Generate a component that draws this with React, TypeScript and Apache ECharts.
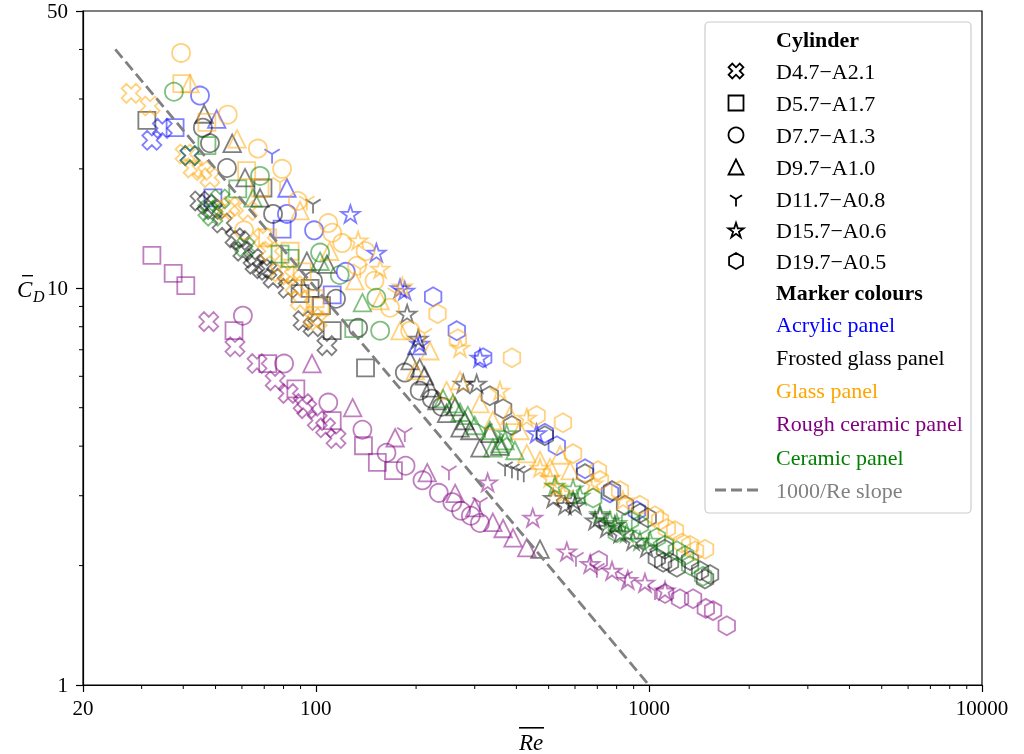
import React, { useEffect, useRef } from "react";
import * as echarts from "echarts";

// ---- Data: [Re, C_D] ----
const acrylicCross = [[32.2, 23.6], [34.6, 25.3], [41.9, 21.6]];
const acrylicSquare = [[37.8, 25.4], [49.1, 16.9], [79.2, 14.1], [112, 9.63]];
const acrylicCircle = [[44.9, 30.6], [81.9, 15.4], [98.8, 14.0], [123, 11.0]];
const acrylicTriangle = [[50.4, 26.7], [81.9, 17.9], [201, 7.17]];
const acrylicTri = [[73.9, 21.8]];
const acrylicStar = [[127, 15.4], [152, 12.3], [179, 10.0], [185, 9.86], [205, 7.25], [311, 6.68], [460, 4.31]];
const acrylicHexagon = [[225, 9.52], [265, 7.82], [318, 6.68], [487, 4.31], [529, 4.01], [643, 3.51], [764, 3.05], [920, 2.75]];

const frostedCross = [[47.1, 16.3], [49.1, 15.8], [52.3, 14.6], [57.2, 13.4], [60.4, 12.4], [65.7, 11.5], [71.3, 11.1], [74.4, 10.6], [82.6, 10.0], [91.6, 8.29], [98.1, 8.0], [108, 7.17], [44.9, 16.6], [64.8, 11.9], [59.2, 13.2], [69.0, 11.2]];
const frostedSquare = [[31.1, 26.5], [69.4, 17.9], [89.7, 9.69], [96.1, 10.0], [104, 9.04], [112, 7.82], [141, 6.3]];
const frostedCircle = [[45.8, 25.4], [48.1, 23.2], [54.1, 20.1], [74.4, 15.4], [98.1, 10.45], [115, 9.41], [134, 7.95], [185, 6.13], [205, 5.52], [223, 5.27], [239, 5.03]];
const frostedTriangle = [[46.2, 27.5], [56.1, 23.2], [61.3, 19.0], [68.0, 16.9], [94.0, 11.7], [108, 11.5], [192, 6.57], [205, 6.3], [212, 6.02], [220, 5.61], [231, 5.21], [247, 4.84], [262, 5.03], [271, 4.45], [280, 4.64], [290, 4.38], [311, 3.96], [333, 4.31], [357, 4.0], [471, 2.2]];
const frostedTri = [[98.1, 16.3], [370, 3.55], [388, 3.51], [404, 3.47], [421, 3.43]];
const frostedStar = [[188, 8.63], [203, 7.46], [277, 5.75], [304, 5.75], [516, 2.96], [560, 2.84], [592, 2.92], [600, 2.84], [689, 2.6], [713, 2.67], [747, 2.49], [790, 2.53], [819, 2.41], [896, 2.31], [985, 2.22]];
const frostedHexagon = [[333, 5.36], [365, 4.97], [388, 4.51], [487, 4.25], [643, 3.41], [775, 3.09], [848, 2.84], [940, 2.71], [992, 2.64], [1056, 2.09], [1103, 2.04], [1117, 2.2], [1157, 2.04], [1213, 1.98], [1329, 2.06], [1424, 1.94], [1474, 1.85], [1526, 1.9]];

const glassCross = [[27.9, 31.0], [31.8, 28.8], [40.5, 21.8], [42.8, 20.1], [45.5, 19.8], [48.1, 19.0], [53.4, 15.7], [55.3, 16.1], [62.5, 15.7], [69.4, 13.4], [72.9, 12.4], [78.1, 11.0], [82.6, 10.8], [86.7, 10.15], [89.7, 9.31], [98.1, 8.42], [101, 8.29]];
const glassSquare = [[39.6, 32.8], [47.1, 26.2], [62.0, 19.8], [68.0, 17.9], [71.7, 13.4], [83.7, 12.4], [91.0, 11.0], [99.5, 9.41], [103, 8.98]];
const glassCircle = [[39.4, 39.2], [54.4, 27.4], [67.0, 22.5], [79.2, 20.0], [88.3, 16.6], [109, 14.6], [112, 13.8], [120, 13.0], [133, 11.4], [141, 12.4], [150, 10.45], [167, 8.93], [192, 7.82], [60.9, 14.0]];
const glassTriangle = [[41.9, 32.8], [58.0, 23.8], [89.7, 15.7], [110, 12.4], [131, 10.45], [156, 9.31], [179, 7.82], [199, 6.2], [220, 6.96], [247, 5.52], [271, 5.85], [311, 5.12], [340, 4.64], [383, 4.78], [410, 4.38], [430, 3.83], [471, 3.68], [505, 3.53], [541, 3.8], [580, 3.47]];
const glassTri = [[78.1, 18.5], [94.0, 16.6], [136, 11.2], [173, 9.74], [212, 7.7]];
const glassStar = [[134, 13.2], [156, 11.2], [182, 10.1], [271, 7.08], [357, 5.52], [430, 4.72], [471, 3.53], [505, 3.33], [529, 3.15], [552, 3.04], [680, 3.22], [836, 2.92]];
const glassHexagon = [[232, 8.63], [267, 7.46], [388, 6.68], [460, 4.78], [552, 4.58], [592, 3.83], [703, 3.47], [713, 3.28], [819, 3.09], [940, 2.84], [1043, 2.67], [1080, 2.6], [1132, 2.48], [1198, 2.45], [1257, 2.28], [1329, 2.25], [1376, 2.18], [1474, 2.2]];

const roughCross = [[47.7, 8.24], [57.2, 7.12], [66.6, 6.46], [75.5, 5.85], [82.6, 5.43], [91.6, 5.12], [94.0, 4.97], [101, 4.64], [107, 4.45], [115, 4.18]];
const roughSquare = [[32.2, 12.1], [37.3, 10.9], [40.7, 10.15], [56.8, 7.82], [71.7, 6.46], [87.1, 5.58], [112, 4.64], [139, 4.01], [153, 3.64], [171, 3.47]];
const roughCircle = [[60.4, 8.53], [80.3, 6.46], [109, 5.15], [138, 4.4], [163, 3.85], [186, 3.57], [209, 3.28], [234, 3.05], [257, 2.89], [273, 2.75], [292, 2.67], [311, 2.56]];
const roughTriangle = [[97.4, 6.46], [129, 5.0], [173, 4.2], [216, 3.43], [262, 3.04], [300, 2.8], [340, 2.57], [365, 2.48], [391, 2.35], [430, 2.22]];
const roughTri = [[185, 4.33], [251, 3.47], [311, 2.89], [604, 2.1], [698, 1.97], [848, 1.88], [1043, 1.73]];
const roughStar = [[328, 3.24], [448, 2.64], [567, 2.17], [666, 2.02], [775, 1.94], [864, 1.84], [973, 1.81], [1118, 1.73]];
const roughHexagon = [[707, 2.06], [1118, 1.7], [1240, 1.65], [1357, 1.65], [1482, 1.56], [1558, 1.54], [1713, 1.41]];

const ceramicCross = [[41.9, 21.6], [47.4, 15.7], [49.1, 15.2], [61.3, 12.7], [51.6, 16.8]];
const ceramicSquare = [[47.1, 22.9], [58.3, 17.8], [78.1, 12.2], [83.7, 11.9], [130, 7.91]];
const ceramicCircle = [[37.5, 31.3], [68.0, 19.2], [103, 12.3], [118, 10.8], [152, 9.46], [156, 7.82]];
const ceramicTriangle = [[64.8, 16.9], [103, 11.7], [138, 9.2], [241, 5.27], [258, 5.12], [271, 4.87], [286, 4.78], [300, 4.51], [333, 4.38], [340, 3.96], [357, 4.06], [370, 4.13], [396, 3.9]];
const ceramicTri = [[322, 4.43]];
const ceramicStar = [[374, 4.31], [522, 3.18], [592, 3.13], [621, 3.0], [713, 2.7], [764, 2.6], [801, 2.56], [858, 2.42], [940, 2.31], [1008, 2.31]];
const ceramicHexagon = [[680, 2.96], [801, 2.42], [878, 2.6], [940, 2.53], [1056, 2.35], [1117, 2.25], [1213, 2.18], [1284, 2.12], [1329, 2.0], [1454, 1.88]];

const slopeLine = [[25, 40], [1000, 1]];

const cylinderNames = ["D4.7\u2212A2.1", "D5.7\u2212A1.7", "D7.7\u2212A1.3", "D9.7\u2212A1.0", "D11.7\u2212A0.8", "D15.7\u2212A0.6", "D19.7\u2212A0.5"];
const panelNames = ["Acrylic panel", "Frosted glass panel", "Glass panel", "Rough ceramic panel", "Ceramic panel"];
const panelColors = ["#0000ff", "#000000", "#ffa500", "#800080", "#008000"];
const xMinor = [30, 40, 50, 60, 70, 80, 90, 200, 300, 400, 500, 600, 700, 800, 900, 2000, 3000, 4000, 5000, 6000, 7000, 8000, 9000];
const yMinor = [2, 3, 4, 5, 6, 7, 8, 9, 20, 30, 40];

const panelSets = [
  [acrylicCross, acrylicSquare, acrylicCircle, acrylicTriangle, acrylicTri, acrylicStar, acrylicHexagon],
  [frostedCross, frostedSquare, frostedCircle, frostedTriangle, frostedTri, frostedStar, frostedHexagon],
  [glassCross, glassSquare, glassCircle, glassTriangle, glassTri, glassStar, glassHexagon],
  [roughCross, roughSquare, roughCircle, roughTriangle, roughTri, roughStar, roughHexagon],
  [ceramicCross, ceramicSquare, ceramicCircle, ceramicTriangle, ceramicTri, ceramicStar, ceramicHexagon],
];

const X_PATH = "path://M2,-4L0,-2L-2,-4L-4,-2L-2,0L-4,2L-2,4L0,2L2,4L4,2L2,0L4,-2Z";
const TRI_PATH = "path://M0,-100M0,0L0,100M0,0L-80,-50M0,0L80,-50";
const STAR_PATH = "path://M0,-100L22.45,-30.9L95.11,-30.9L36.33,11.8L58.78,80.9L0,38.2L-58.78,80.9L-36.33,11.8L-95.11,-30.9L-22.45,-30.9Z";
const HEX_PATH = "path://M0,-100L86.6,-50L86.6,50L0,100L-86.6,50L-86.6,-50Z";
const shapeDefs = [
  { symbol: X_PATH, size: 19 },
  { symbol: "rect", size: 17 },
  { symbol: "circle", size: 18 },
  { symbol: "triangle", size: 17.5 },
  { symbol: TRI_PATH, size: 19 },
  { symbol: STAR_PATH, size: 18.5 },
  { symbol: HEX_PATH, size: 19 },
];

const FONT = "'Liberation Serif', 'Times New Roman', serif";

export default function App() {
  const ref = useRef<HTMLDivElement>(null);
  useEffect(() => {
    if (!ref.current) return;
    const chart = echarts.init(ref.current, null, { renderer: "svg" });
    const series: any[] = [];
    panelSets.forEach((sets, pi) => {
      sets.forEach((data, si) => {
        series.push({
          type: "scatter",
          data,
          symbol: shapeDefs[si].symbol,
          symbolSize: shapeDefs[si].size,
          symbolKeepAspect: true,
          silent: true,
          itemStyle: { color: "none", borderColor: panelColors[pi], borderWidth: 1.8, opacity: 0.5 },
          z: 2,
        });
      });
    });
    series.push({
      type: "line",
      data: slopeLine,
      showSymbol: false,
      silent: true,
      lineStyle: { color: "#808080", width: 2.8, type: [11, 5] },
      z: 3,
    });
    const fmt = (v: number) => String(Math.round(v));
    chart.setOption({
      animation: false,
      grid: { left: 83, top: 11, width: 899, height: 674, show: true, borderColor: "#000", borderWidth: 1.2, backgroundColor: "transparent" },
      xAxis: {
        type: "log", logBase: 10, min: 20, max: 10000,
        axisLine: { show: true, lineStyle: { color: "#000", width: 1.2 } },
        axisTick: { show: true, length: 7, lineStyle: { color: "#000", width: 1.2 } },
        axisLabel: { formatter: fmt, fontFamily: FONT, fontSize: 21, color: "#000", margin: 12, showMinLabel: true, showMaxLabel: true },
        splitLine: { show: false },
      },
      yAxis: {
        type: "log", logBase: 10, min: 1, max: 50,
        axisLine: { show: true, lineStyle: { color: "#000", width: 1.2 } },
        axisTick: { show: true, length: 7, lineStyle: { color: "#000", width: 1.2 } },
        axisLabel: { formatter: fmt, fontFamily: FONT, fontSize: 21, color: "#000", margin: 15, showMinLabel: true, showMaxLabel: true },
        splitLine: { show: false },
      },
      series,
    });

    const px = (v: number) => chart.convertToPixel({ xAxisIndex: 0 }, v) as number;
    const py = (v: number) => chart.convertToPixel({ yAxisIndex: 0 }, v) as number;
    const bottom = py(1);
    const left = px(20);
    const g: any[] = [];
    xMinor.forEach((v) => {
      const x = px(v);
      g.push({ type: "line", shape: { x1: x, y1: bottom, x2: x, y2: bottom + 4 }, style: { stroke: "#000", lineWidth: 1 }, silent: true });
    });
    yMinor.forEach((v) => {
      const y = py(v);
      g.push({ type: "line", shape: { x1: left - 4, y1: y, x2: left, y2: y }, style: { stroke: "#000", lineWidth: 1 }, silent: true });
    });

    // axis titles
    g.push({ type: "text", x: 531, y: 742, style: { text: "Re", fontFamily: FONT, fontStyle: "italic", fontSize: 23, fill: "#000", align: "center", verticalAlign: "middle" } });
    g.push({ type: "rect", shape: { x: 519, y: 727, width: 25, height: 1.6 }, style: { fill: "#000" } });
    g.push({ type: "text", x: 17, y: 289, style: { text: "C", fontFamily: FONT, fontStyle: "italic", fontSize: 23, fill: "#000", align: "left", verticalAlign: "middle" } });
    g.push({ type: "rect", shape: { x: 22, y: 275, width: 11, height: 1.4 }, style: { fill: "#000" } });
    g.push({ type: "text", x: 33, y: 296, style: { text: "D", fontFamily: FONT, fontStyle: "italic", fontSize: 16, fill: "#000", align: "left", verticalAlign: "middle" } });

    // legend
    const rowY = [39, 71, 103, 135, 167, 199, 230, 261, 292, 324, 357, 390, 423, 457, 490];
    const MX = 736;
    const TX = 776;
    const leg: any[] = [];
    leg.push({ type: "rect", shape: { x: 705, y: 22, width: 266, height: 491, r: 4 }, style: { fill: "rgba(255,255,255,0.8)", stroke: "#cccccc", lineWidth: 1.2 } });
    const txt = (text: string, y: number, fill: string, bold = false) => ({
      type: "text", x: TX, y,
      style: { text, fontFamily: FONT, fontSize: 22, fontWeight: bold ? "bold" : "normal", fill, align: "left", verticalAlign: "middle" },
    });
    leg.push(txt("Cylinder", rowY[0], "#000", true));
    cylinderNames.forEach((n, i) => leg.push(txt(n, rowY[i + 1], "#000")));
    leg.push(txt("Marker colours", rowY[8], "#000", true));
    panelNames.forEach((n, i) => leg.push(txt(n, rowY[9 + i], panelColors[i])));
    leg.push(txt("1000/Re slope", rowY[14], "#808080"));
    leg.push({ type: "line", shape: { x1: 715, y1: rowY[14], x2: 758, y2: rowY[14] }, style: { stroke: "#808080", lineWidth: 2.8, lineDash: [11, 5] } });

    const ms = { fill: "none", stroke: "#000", lineWidth: 1.8 };
    const poly = (pts: number[][], s: number, cy: number) => ({
      type: "polygon", shape: { points: pts.map(([a, b]) => [MX + a * s, cy + b * s]) }, style: ms,
    });
    const xPts = [[2, -4], [0, -2], [-2, -4], [-4, -2], [-2, 0], [-4, 2], [-2, 4], [0, 2], [2, 4], [4, 2], [2, 0], [4, -2]];
    leg.push(poly(xPts, 1.85, rowY[1]));
    leg.push({ type: "rect", shape: { x: MX - 7.5, y: rowY[2] - 7.5, width: 15, height: 15 }, style: ms });
    leg.push({ type: "circle", shape: { cx: MX, cy: rowY[3], r: 7.5 }, style: ms });
    leg.push(poly([[0, -1], [-1, 1], [1, 1]], 7.5, rowY[4]));
    const ty = rowY[5];
    leg.push({ type: "line", shape: { x1: MX, y1: ty, x2: MX, y2: ty + 7.5 }, style: ms });
    leg.push({ type: "line", shape: { x1: MX, y1: ty, x2: MX - 6, y2: ty - 3.75 }, style: ms });
    leg.push({ type: "line", shape: { x1: MX, y1: ty, x2: MX + 6, y2: ty - 3.75 }, style: ms });
    const starPts = [[0, -1], [0.2245, -0.309], [0.9511, -0.309], [0.3633, 0.118], [0.5878, 0.809], [0, 0.382], [-0.5878, 0.809], [-0.3633, 0.118], [-0.9511, -0.309], [-0.2245, -0.309]];
    leg.push(poly(starPts, 8, rowY[6] + 0.8));
    const hexPts = [[0, -1], [0.866, -0.5], [0.866, 0.5], [0, 1], [-0.866, 0.5], [-0.866, -0.5]];
    leg.push(poly(hexPts, 8, rowY[7]));

    g.push({ type: "group", z: 100, children: leg });
    chart.setOption({ graphic: g });

    return () => chart.dispose();
  }, []);
  return <div ref={ref} style={{ position: "fixed", left: 0, top: 0, width: 1024, height: 754 }} />;
}
